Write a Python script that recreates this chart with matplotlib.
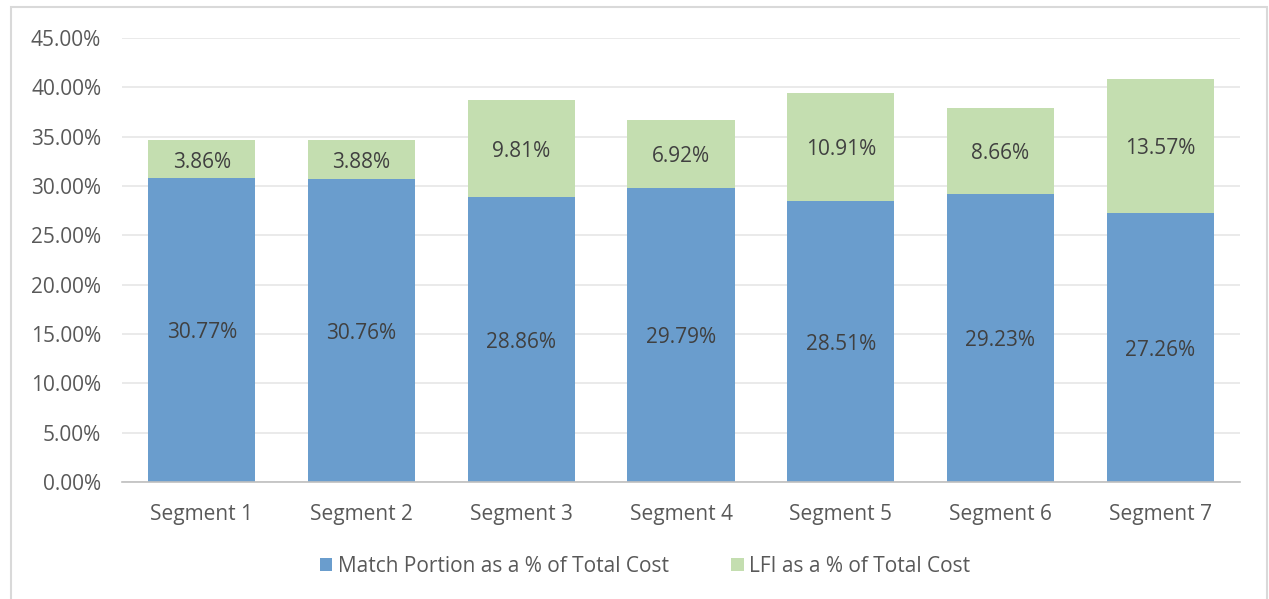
import matplotlib
matplotlib.use("Agg")
import matplotlib.pyplot as plt
from matplotlib.patches import Rectangle
from matplotlib.ticker import FuncFormatter, MultipleLocator
from matplotlib.transforms import offset_copy

categories = ["Segment 1", "Segment 2", "Segment 3", "Segment 4", "Segment 5", "Segment 6", "Segment 7"]
match_portion = [30.77, 30.76, 28.86, 29.79, 28.51, 29.23, 27.26]
lfi = [3.86, 3.88, 9.81, 6.92, 10.91, 8.66, 13.57]
series_names = ["Match Portion as a % of Total Cost", "LFI as a % of Total Cost"]

plt.rcParams['font.family'] = ['Open Sans', 'DejaVu Sans']
blue = "#6A9DCD"
green = "#C4DEB0"
txt = "#404040"
tick_c = "#595959"
fs = 15

fig = plt.figure(figsize=(12.69, 5.99), dpi=100)
ax = fig.add_axes([122/1269, 117/599, (1240-122)/1269, (482-38)/599])

x = list(range(len(categories)))
w = 0.67
b1 = ax.bar(x, match_portion, w, color=blue, label=series_names[0], zorder=2)
b2 = ax.bar(x, lfi, w, bottom=match_portion, color=green, label=series_names[1], zorder=2)

tr = offset_copy(ax.transData, fig=fig, x=0, y=-2, units="points")
for i in x:
    ax.text(i, match_portion[i] / 2, f"{match_portion[i]:.2f}%", ha="center", va="center",
            fontsize=fs, color=txt, zorder=3, transform=tr)
    ax.text(i, match_portion[i] + lfi[i] / 2, f"{lfi[i]:.2f}%", ha="center", va="center",
            fontsize=fs, color=txt, zorder=3, transform=tr)

ax.set_ylim(0, 45)
ax.set_xlim(-0.5, 6.5)
ax.yaxis.set_major_locator(MultipleLocator(5))
ax.yaxis.set_major_formatter(FuncFormatter(lambda v, p: f"{v:.2f}%"))
ax.set_xticks(x)
ax.set_xticklabels(categories)
ax.tick_params(axis="both", length=0, labelsize=fs, colors=tick_c)
ax.tick_params(axis="x", pad=16)
ax.tick_params(axis="y", pad=15)
ax.grid(axis="y", color="#E6E6E6", linewidth=1.2, zorder=0)
for s in ["top", "right", "left"]:
    ax.spines[s].set_visible(False)
ax.spines["bottom"].set_color("#BFBFBF")
ax.spines["bottom"].set_linewidth(1.2)

leg = fig.legend(handles=[b1, b2], labels=series_names, loc="center", bbox_to_anchor=(645/1269, 1 - 566/599),
                 ncol=2, frameon=False, fontsize=fs, handlelength=0.6, handleheight=0.6,
                 handletextpad=0.25, columnspacing=3.0, labelcolor=tick_c)

fig.patches.append(Rectangle((11/1269, -0.05), (1267-11)/1269, 1.05 - 7/599, transform=fig.transFigure,
                             fill=False, edgecolor="#D9D9D9", linewidth=1.5))

fig.savefig("out.png", dpi=100)
